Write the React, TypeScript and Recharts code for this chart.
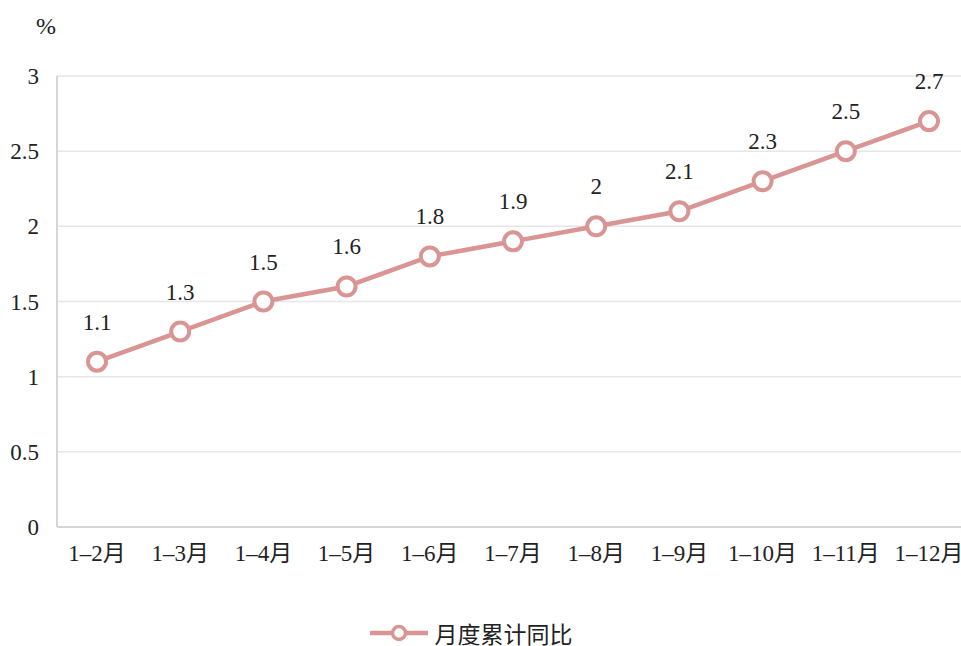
import React from 'react';
import { LineChart, Line, XAxis, YAxis, CartesianGrid, LabelList } from 'recharts';

const categories = ['1–2月', '1–3月', '1–4月', '1–5月', '1–6月', '1–7月', '1–8月', '1–9月', '1–10月', '1–11月', '1–12月'];
const values = [1.1, 1.3, 1.5, 1.6, 1.8, 1.9, 2, 2.1, 2.3, 2.5, 2.7];
const yTicks = [0, 0.5, 1, 1.5, 2, 2.5, 3];
const seriesName = '月度累计同比';

const data = categories.map((c, i) => ({ name: c, value: values[i] }));

const COLOR = '#d99593';
const SERIF = '"Liberation Serif", "Times New Roman", "Noto Sans CJK SC", serif';

export default function App() {
  return (
    <div style={{ position: 'absolute', left: 0, top: 0, width: 961, height: 646, overflow: 'hidden', background: '#fff' }}>
      <div style={{ position: 'absolute', left: 36, top: 12, fontFamily: SERIF, fontSize: 24, color: '#222', lineHeight: '28px' }}>%</div>
      <LineChart width={980} height={646} data={data} margin={{ top: 76, right: 10, bottom: 89, left: 0 }}>
        <CartesianGrid horizontal vertical={false} stroke="#e6e6e6" strokeWidth={1.5} />
        <XAxis
          dataKey="name"
          height={30}
          axisLine={{ stroke: '#d6d6d6', strokeWidth: 2 }}
          tickLine={false}
          tick={{ fontFamily: SERIF, fontSize: 23, fill: '#222' }}
          tickMargin={12}
          interval={0}
          padding={{ left: 40, right: 41 }}
        />
        <YAxis
          width={57}
          domain={[0, 3]}
          ticks={yTicks}
          axisLine={{ stroke: '#d6d6d6', strokeWidth: 2 }}
          tickLine={false}
          tick={{ fontFamily: SERIF, fontSize: 23, fill: '#222' }}
          tickMargin={12}
        />
        <Line
          type="linear"
          dataKey="value"
          name={seriesName}
          stroke={COLOR}
          strokeWidth={4.5}
          dot={{ r: 9, fill: '#fff', stroke: COLOR, strokeWidth: 4 }}
          activeDot={false}
          isAnimationActive={false}
        >
          <LabelList dataKey="value" position="top" offset={32} style={{ fontFamily: SERIF, fontSize: 23, fill: '#222' }} />
        </Line>
      </LineChart>
      <div style={{ position: 'absolute', left: 0, width: 942, top: 615, height: 36, display: 'flex', justifyContent: 'center', alignItems: 'center' }}>
        <svg width={58} height={28}>
          <line x1={0} y1={14} x2={58} y2={14} stroke={COLOR} strokeWidth={4.5} />
          <circle cx={29} cy={14} r={6.5} fill="#fff" stroke={COLOR} strokeWidth={3.5} />
        </svg>
        <span style={{ marginLeft: 7, fontFamily: '"Noto Sans CJK SC", sans-serif', fontSize: 23, color: '#222', lineHeight: 1.4 }}>{seriesName}</span>
      </div>
    </div>
  );
}
